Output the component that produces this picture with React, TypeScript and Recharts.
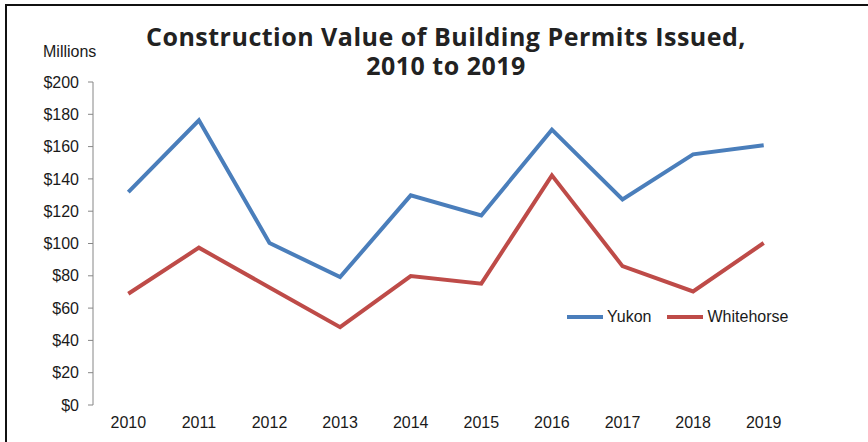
import React from "react";
import { LineChart, Line, XAxis, YAxis, Legend } from "recharts";

const years = ["2010", "2011", "2012", "2013", "2014", "2015", "2016", "2017", "2018", "2019"];
const yukon = [131.8, 176.3, 100.3, 79.2, 129.8, 117.4, 170.5, 127.3, 155.2, 160.8];
const whitehorse = [68.9, 97.4, 72.8, 48.2, 79.8, 75.1, 142.2, 86.0, 70.3, 100.3];
const seriesNames = ["Yukon", "Whitehorse"];
const yTicks = [0, 20, 40, 60, 80, 100, 120, 140, 160, 180, 200];
const labelTicks = [0, 1, 2, 3, 4, 5, 6, 7, 8, 9];
const boundaryTicks = [-0.5, 0.5, 1.5, 2.5, 3.5, 4.5, 5.5, 6.5, 7.5, 8.5, 9.5];

const data = years.map((y, i) => ({ i, year: y, Yukon: yukon[i], Whitehorse: whitehorse[i] }));

const FONT = "'Liberation Sans', Arial, sans-serif";
const AXIS = "#868686";
const TEXT = "#1a1a1a";
const BLUE = "#4A7EBB";
const RED = "#BE4B48";

const EmptyTick = () => <g />;

const LegendContent = (props: any) => {
  const payload = [...(props.payload || [])].sort(
    (a: any, b: any) => seriesNames.indexOf(a.value) - seriesNames.indexOf(b.value)
  );
  return (
    <div style={{ display: "flex", alignItems: "center", fontFamily: FONT, fontSize: 16, color: TEXT }}>
      {payload.map((p: any, idx: number) => (
        <div key={idx} style={{ display: "flex", alignItems: "center", marginRight: 16 }}>
          <svg width={36} height={10} style={{ marginRight: 4 }}>
            <line x1={0} y1={5} x2={36} y2={5} stroke={p.color} strokeWidth={4} />
          </svg>
          <span>{p.value}</span>
        </div>
      ))}
    </div>
  );
};

const titleStyle: React.CSSProperties = {
  position: "absolute",
  left: 0,
  width: 892,
  textAlign: "center",
  fontFamily: "'Open Sans', sans-serif",
  fontWeight: 700,
  fontSize: 25,
  letterSpacing: 0.5,
  lineHeight: "24px",
  color: "#222",
  whiteSpace: "nowrap",
};

export default function App() {
  return (
    <div style={{ position: "relative", width: 868, height: 442, overflow: "hidden", background: "#fff" }}>
      <style>{`body{margin:0;}`}</style>
      <div
        style={{
          position: "absolute",
          left: 5,
          top: 4,
          width: 900,
          height: 500,
          borderLeft: "2px solid #111",
          borderTop: "2px solid #111",
        }}
      />
      <div style={{ ...titleStyle, top: 24 }}>Construction Value of Building Permits Issued,</div>
      <div style={{ ...titleStyle, top: 53 }}>2010 to 2019</div>
      <div
        style={{
          position: "absolute",
          left: 43,
          top: 43,
          fontFamily: FONT,
          fontSize: 16,
          color: TEXT,
        }}
      >
        Millions
      </div>
      <div style={{ position: "absolute", left: 0, top: 0 }}>
        <LineChart width={868} height={442} data={data} margin={{ top: 82, right: 69, bottom: 0, left: 0 }}>
          <XAxis
            xAxisId="grid"
            dataKey="i"
            type="number"
            domain={[-0.5, 9.5]}
            ticks={boundaryTicks}
            interval={0}
            height={0}
            tickSize={5}
            tick={<EmptyTick />}
            axisLine={{ stroke: AXIS }}
            tickLine={{ stroke: AXIS }}
          />
          <XAxis
            xAxisId="labels"
            dataKey="i"
            type="number"
            domain={[-0.5, 9.5]}
            ticks={labelTicks}
            interval={0}
            height={37}
            axisLine={false}
            tickLine={false}
            tickSize={5}
            tickMargin={7}
            tickFormatter={(v: number) => years[v]}
            tick={{ fill: TEXT, fontSize: 16, fontFamily: FONT }}
          />
          <YAxis
            domain={[0, 200]}
            ticks={yTicks}
            interval={0}
            width={93}
            tickSize={5}
            tickMargin={9}
            axisLine={{ stroke: AXIS }}
            tickLine={{ stroke: AXIS }}
            tickFormatter={(v: number) => `$${v}`}
            tick={{ fill: TEXT, fontSize: 16, fontFamily: FONT }}
          />
          <Legend
            layout="horizontal"
            align="center"
            verticalAlign="middle"
            content={<LegendContent />}
            wrapperStyle={{ position: "absolute", left: 567, top: 308, width: 260 }}
          />
          <Line
            xAxisId="labels"
            type="linear"
            dataKey="Yukon"
            name="Yukon"
            stroke={BLUE}
            strokeWidth={4}
            dot={false}
            activeDot={false}
            isAnimationActive={false}
          />
          <Line
            xAxisId="labels"
            type="linear"
            dataKey="Whitehorse"
            name="Whitehorse"
            stroke={RED}
            strokeWidth={4}
            dot={false}
            activeDot={false}
            isAnimationActive={false}
          />
        </LineChart>
      </div>
    </div>
  );
}
